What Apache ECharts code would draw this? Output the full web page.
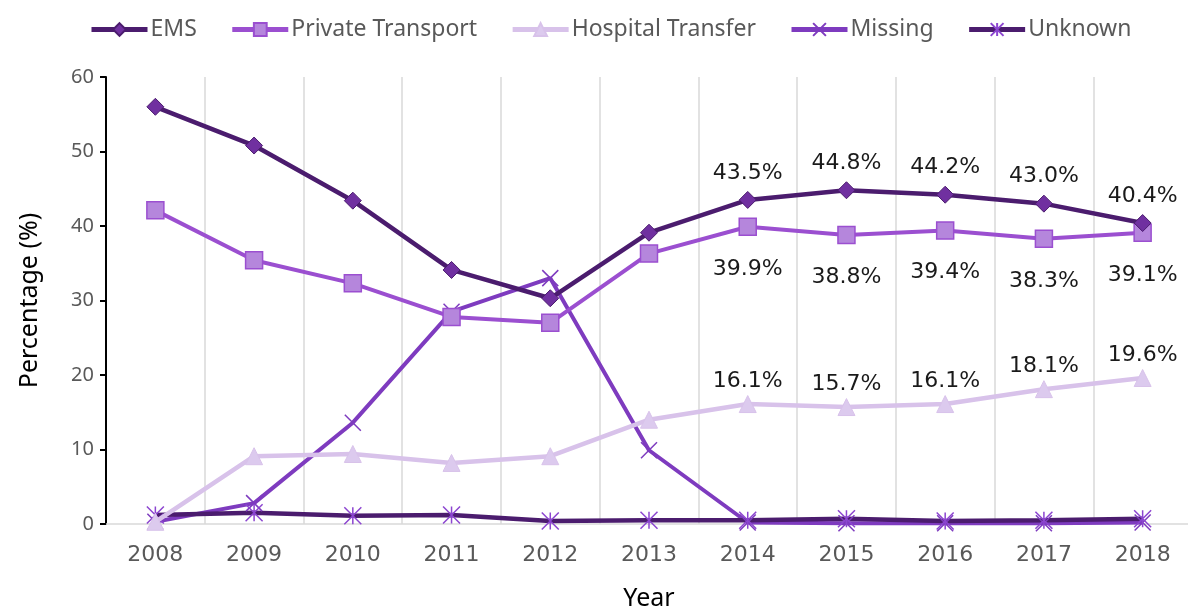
<!DOCTYPE html>
<html>
<head>
<meta charset="utf-8">
<script src="https://cdn.jsdelivr.net/npm/echarts@6/dist/echarts.min.js"></script>
<style>
  html, body { margin: 0; padding: 0; background: #fff; }
  #chart { width: 1188px; height: 610px; }
</style>
</head>
<body>
<div id="chart"></div>
<script>
const years = ['2008', '2009', '2010', '2011', '2012', '2013', '2014', '2015', '2016', '2017', '2018'];
const ems = [56.0, 50.8, 43.4, 34.1, 30.3, 39.1, 43.5, 44.8, 44.2, 43.0, 40.4];
const privateTransport = [42.1, 35.4, 32.3, 27.8, 27.0, 36.3, 39.9, 38.8, 39.4, 38.3, 39.1];
const hospitalTransfer = [0.3, 9.1, 9.4, 8.2, 9.1, 14.0, 16.1, 15.7, 16.1, 18.1, 19.6];
const missing = [0.3, 2.8, 13.6, 28.5, 33.0, 9.9, 0.2, 0.1, 0.1, 0.1, 0.2];
const unknown = [1.2, 1.5, 1.1, 1.2, 0.4, 0.5, 0.5, 0.7, 0.4, 0.5, 0.7];
const labelFrom = 6; // labels shown from 2014 on

const crossPath = 'path://M0,0L10,10M10,0L0,10';
const starPath = 'path://M0,0L10,10M10,0L0,10M5,0L5,10';

function withLabels(values, show) {
  return values.map(function (v, i) {
    return show && i >= labelFrom ? { value: v, label: { show: true } } : v;
  });
}

const labelStyle = {
  fontFamily: 'DejaVu Sans',
  fontSize: 22,
  color: '#1a1a1a',
  formatter: function (p) { return p.value.toFixed(1) + '%'; }
};

var myChart = echarts.init(document.getElementById('chart'));
myChart.setOption({
  animation: false,
  textStyle: { fontFamily: 'Noto Sans' },
  legend: {
    top: 13,
    left: 84,
    itemWidth: 56,
    itemHeight: 16,
    itemGap: 33,
    lineStyle: { width: 5 },
    textStyle: { fontSize: 23, color: '#595959', padding: [0, 0, 0, -2] },
    data: ['EMS', 'Private Transport', 'Hospital Transfer', 'Missing', 'Unknown']
  },
  grid: {
    left: 106, top: 77, width: 1086, height: 447,
    containLabel: false, outerBoundsMode: 'none'
  },
  xAxis: {
    type: 'category',
    data: years,
    boundaryGap: true,
    name: 'Year',
    nameLocation: 'middle',
    nameGap: 62,
    nameTextStyle: { fontSize: 25, color: '#000' },
    axisLine: { lineStyle: { color: '#d9d9d9', width: 1.5 } },
    axisTick: { show: false },
    axisLabel: { fontSize: 22, color: '#595959', margin: 20, fontFamily: 'DejaVu Sans' },
    splitLine: { show: true, lineStyle: { color: '#d9d9d9', width: 1.5 } }
  },
  yAxis: {
    type: 'value',
    min: 0, max: 60, interval: 10,
    name: 'Percentage (%)',
    nameLocation: 'middle',
    nameGap: 64,
    nameTextStyle: { fontSize: 25, color: '#000' },
    axisLine: { show: true, lineStyle: { color: '#000', width: 2 } },
    axisTick: { show: true, inside: false, length: 6, lineStyle: { color: '#000', width: 2 } },
    axisLabel: { fontSize: 20, color: '#595959', margin: 12 },
    splitLine: { show: false }
  },
  series: [
    {
      name: 'EMS',
      type: 'line',
      data: withLabels(ems, true),
      symbol: 'diamond',
      symbolSize: 17,
      lineStyle: { color: '#4b1c6e', width: 4.5 },
      itemStyle: { color: '#7030a0', borderColor: '#4b1c6e', borderWidth: 1 },
      label: Object.assign({ show: false, position: 'top', distance: 7 }, labelStyle),
      z: 5
    },
    {
      name: 'Private Transport',
      type: 'line',
      data: withLabels(privateTransport, true),
      symbol: 'rect',
      symbolSize: 17,
      lineStyle: { color: '#9b4fd0', width: 4 },
      itemStyle: { color: '#b586dc', borderColor: '#9b4fd0', borderWidth: 1.5 },
      label: Object.assign({ show: false, position: 'bottom', distance: 22 }, labelStyle),
      z: 4
    },
    {
      name: 'Hospital Transfer',
      type: 'line',
      data: withLabels(hospitalTransfer, true),
      symbol: 'triangle',
      symbolSize: 17,
      lineStyle: { color: '#d8c2ea', width: 4.5 },
      itemStyle: { color: '#dccaee', borderColor: '#d8c2ea', borderWidth: 1 },
      label: Object.assign({ show: false, position: 'top', distance: 3 }, labelStyle),
      z: 3
    },
    {
      name: 'Missing',
      type: 'line',
      data: missing,
      symbol: crossPath,
      symbolSize: 16,
      lineStyle: { color: '#7e3bbf', width: 4 },
      itemStyle: { color: 'rgba(0,0,0,0)', borderColor: '#7e3bbf', borderWidth: 1.5 },
      z: 2
    },
    {
      name: 'Unknown',
      type: 'line',
      data: unknown,
      symbol: starPath,
      symbolSize: 17,
      lineStyle: { color: '#4b1c6e', width: 4.5 },
      itemStyle: { color: 'rgba(0,0,0,0)', borderColor: '#8c45d0', borderWidth: 1.5 },
      z: 2
    }
  ]
});
</script>
</body>
</html>
